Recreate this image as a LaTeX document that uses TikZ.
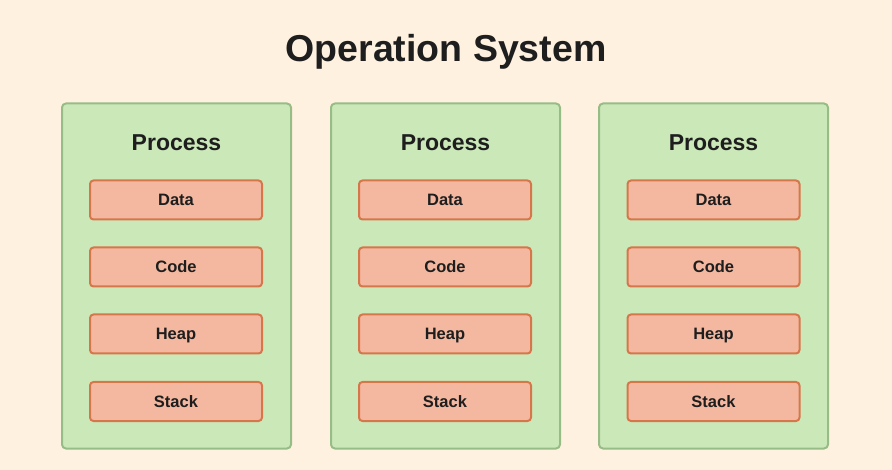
\documentclass[tikz,border=0pt]{standalone}
\usepackage{fontspec}
\setmainfont{Liberation Sans}
\usepackage{tikz}
\usetikzlibrary{positioning}

\definecolor{bgcol}{HTML}{FFF1DF}
\definecolor{procfill}{HTML}{CBE8B9}
\definecolor{procline}{HTML}{98BC86}
\definecolor{segfill}{HTML}{F4B8A0}
\definecolor{segline}{HTML}{D6774B}
\definecolor{inkcol}{HTML}{1E1E1E}

\tikzset{
	procbox/.style={rectangle, rounded corners=4pt, draw=procline, fill=procfill, line width=2pt, minimum width=229pt, minimum height=345pt},
	segbox/.style={rectangle, rounded corners=3.5pt, draw=segline, fill=segfill, line width=2pt, minimum width=172pt, minimum height=39pt, text=inkcol, font=\bfseries\fontsize{16.5}{18}\selectfont, text height=12pt, text depth=0pt},
	proctitle/.style={text=inkcol, font=\bfseries\fontsize{23}{26}\selectfont, anchor=base, inner sep=0pt}
}

\begin{document}
\begin{tikzpicture}[x=1pt, y=-1pt]
				\fill[bgcol] (0,0) rectangle (892,470);
				\useasboundingbox (0,0) rectangle (892,470);
				
				\node[text=inkcol, font=\bfseries\fontsize{37.5}{40}\selectfont, anchor=base, inner sep=0pt] (OS) at (446,62) {Operation System};
				
				\node[procbox] (P1) at (176.5,276) {};
				\node[procbox] (P2) at (445.5,276) {};
				\node[procbox] (P3) at (713.5,276) {};
				
				\node[proctitle] (T1) at (176.5,151) {Process};
				\node[proctitle] (T2) at (445.5,151) {Process};
				\node[proctitle] (T3) at (713.5,151) {Process};
				
				\node[segbox] (D1) at (176,200) {Data};
				\node[segbox] (C1) at (176,267) {Code};
				\node[segbox] (H1) at (176,334) {Heap};
				\node[segbox] (S1) at (176,401.5) {Stack};
				
				\node[segbox] (D2) at (445,200) {Data};
				\node[segbox] (C2) at (445,267) {Code};
				\node[segbox] (H2) at (445,334) {Heap};
				\node[segbox] (S2) at (445,401.5) {Stack};
				
				\node[segbox] (D3) at (713.5,200) {Data};
				\node[segbox] (C3) at (713.5,267) {Code};
				\node[segbox] (H3) at (713.5,334) {Heap};
				\node[segbox] (S3) at (713.5,401.5) {Stack};
			\end{tikzpicture}
\end{document}
